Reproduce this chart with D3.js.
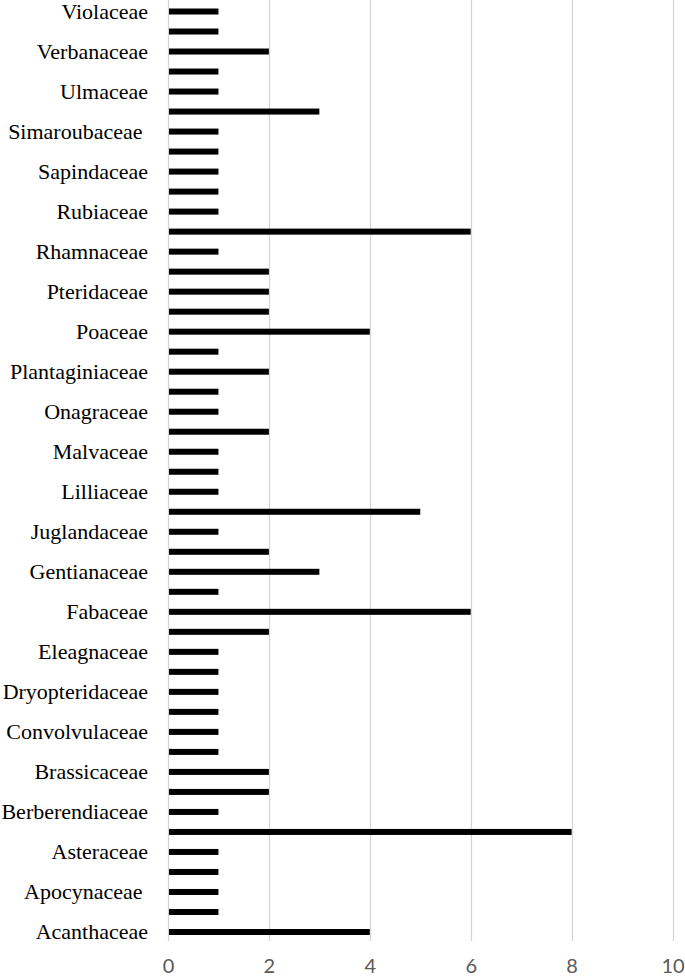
<!DOCTYPE html>
<html>
<head>
<meta charset="utf-8">
<script src="https://cdn.jsdelivr.net/npm/d3@7"></script>
<style>
  html, body { margin: 0; padding: 0; background: #fff; }
  svg { display: block; }
  .ylab text { white-space: pre; }
</style>
</head>
<body>
<svg id="chart" width="685" height="979"></svg>
<script>
// Categories from bottom (Acanthaceae) to top (Violaceae).
// Only every other category is labelled in the original; unlabelled ones are "".
const categories = [
  "Acanthaceae", "", "Apocynaceae ", "", "Asteraceae", "",
  "Berberendiaceae", "", "Brassicaceae", "", "Convolvulaceae", "",
  "Dryopteridaceae", "", "Eleagnaceae", "", "Fabaceae", "",
  "Gentianaceae", "", "Juglandaceae", "", "Lilliaceae", "",
  "Malvaceae", "", "Onagraceae", "", "Plantaginiaceae", "",
  "Poaceae", "", "Pteridaceae", "", "Rhamnaceae", "",
  "Rubiaceae", "", "Sapindaceae", "", "Simaroubaceae ", "",
  "Ulmaceae", "", "Verbanaceae", "", "Violaceae"
];
const values = [
  4, 1, 1, 1, 1, 8,
  1, 2, 2, 1, 1, 1,
  1, 1, 1, 2, 6, 1,
  3, 2, 1, 5, 1, 1,
  1, 2, 1, 1, 2, 1,
  4, 2, 2, 2, 1, 6,
  1, 1, 1, 1, 1, 3,
  1, 1, 2, 1, 1
];
const xTicks = [0, 2, 4, 6, 8, 10];

const svg = d3.select("#chart");
const idx = d3.range(categories.length);

const x = d3.scaleLinear().domain([0, 10]).range([168, 672.5]);
const y = d3.scaleBand()
  .domain(idx.slice().reverse())
  .range([1.5, 942])
  .paddingInner(0.7)
  .paddingOuter(0.35);

// gridlines
svg.append("g")
  .selectAll("line")
  .data(xTicks)
  .join("line")
  .attr("x1", d => Math.round(x(d)) + 0.5)
  .attr("x2", d => Math.round(x(d)) + 0.5)
  .attr("y1", 0)
  .attr("y2", 941)
  .attr("stroke", "#d3d3d3")
  .attr("stroke-width", 1.2);

// bars
svg.append("g")
  .selectAll("rect")
  .data(idx)
  .join("rect")
  .attr("x", x(0) + 1)
  .attr("y", i => y(i))
  .attr("width", i => x(values[i]) - x(0) - 1)
  .attr("height", y.bandwidth())
  .attr("fill", "#000");

// y axis labels
const yAxis = d3.axisLeft(y)
  .tickValues(idx.filter(i => categories[i] !== ""))
  .tickFormat(i => categories[i])
  .tickSize(0)
  .tickPadding(20);
const gy = svg.append("g")
  .attr("class", "ylab")
  .attr("transform", `translate(${x(0)},0)`)
  .call(yAxis);
gy.select(".domain").remove();
gy.selectAll("text")
  .attr("font-family", "'Liberation Serif', 'Times New Roman', serif")
  .attr("font-size", 22)
  .attr("fill", "#000")
  .attr("dy", "0.33em");

// x axis labels
const xAxis = d3.axisBottom(x)
  .tickValues(xTicks)
  .tickFormat(d3.format("d"))
  .tickSize(0)
  .tickPadding(0);
const gx = svg.append("g")
  .attr("transform", "translate(0,959)")
  .call(xAxis);
gx.select(".domain").remove();
gx.selectAll("text")
  .attr("font-family", "Lato, 'Open Sans', sans-serif")
  .attr("font-size", 20)
  .attr("fill", "#595959")
  .attr("dy", "0.71em");
</script>
</body>
</html>
